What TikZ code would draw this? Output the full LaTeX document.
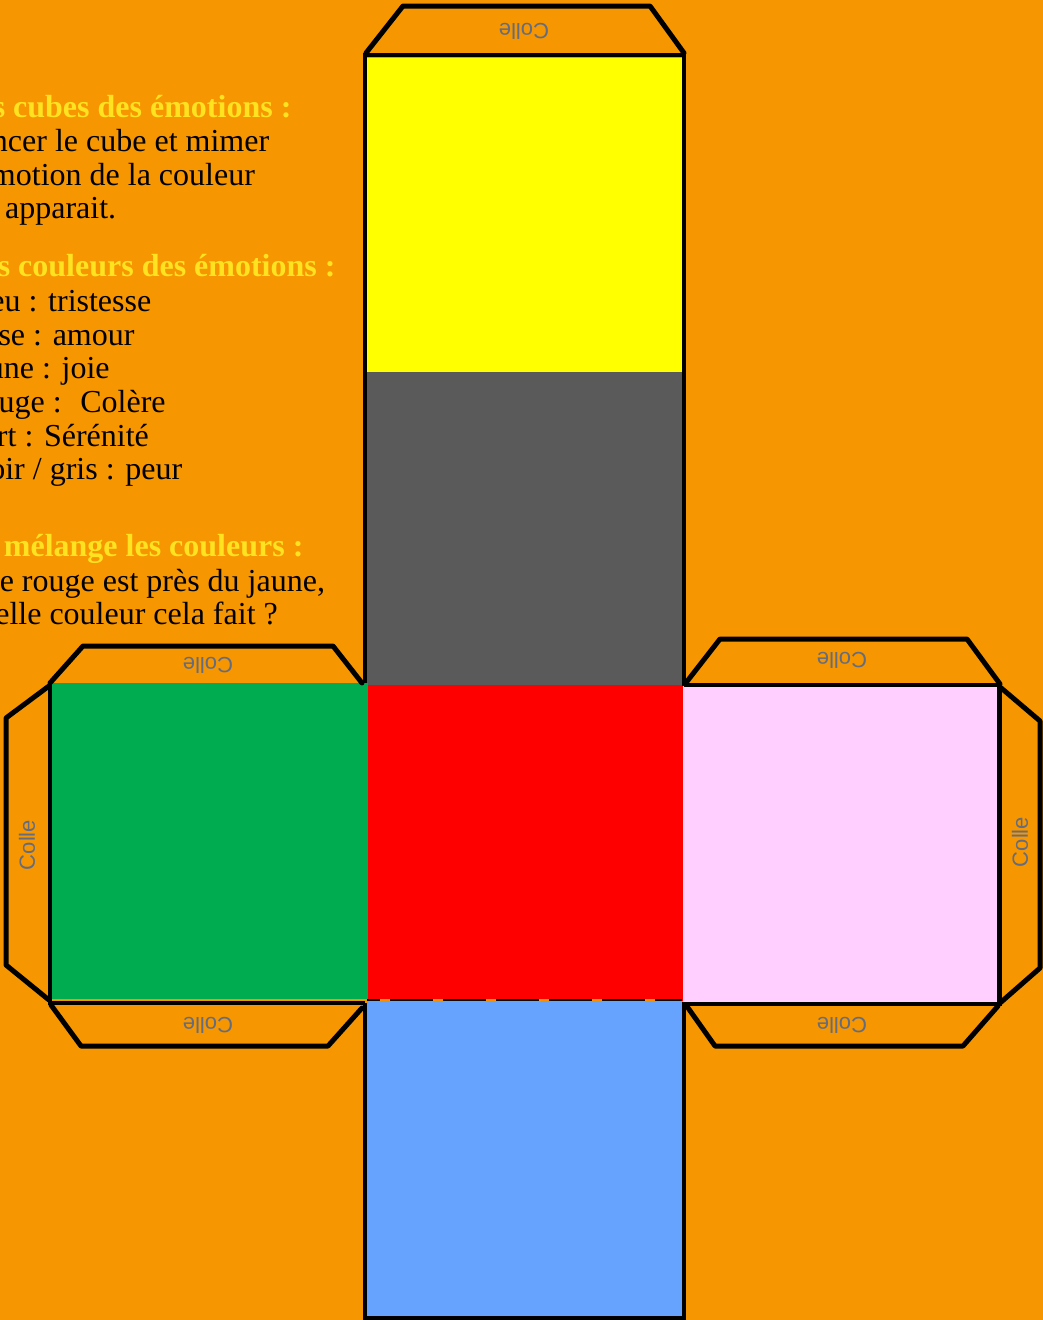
\documentclass[tikz,border=0pt]{standalone}
\usepackage{fontspec}
\setmainfont{Liberation Serif}
\newfontfamily\collefont{Liberation Sans}
\usepackage{xcolor}
\usetikzlibrary{positioning}

\definecolor{fondorange}{RGB}{246,150,0}
\definecolor{titrejaune}{RGB}{255,226,32}
\definecolor{facejaune}{RGB}{255,255,0}
\definecolor{facegris}{RGB}{90,90,90}
\definecolor{facerouge}{RGB}{255,0,0}
\definecolor{facebleu}{RGB}{102,163,255}
\definecolor{facevert}{RGB}{0,172,80}
\definecolor{facerose}{RGB}{255,208,255}
\definecolor{collegris}{RGB}{100,108,126}

\begin{document}
\begin{tikzpicture}[
  x=1pt,
  y=-1pt,
  face/.style={draw=none,inner sep=0pt,minimum width=316pt,minimum height=316pt},
  contour/.style={draw=black,line width=4.5pt,line join=miter},
  languette/.style={draw=black,line width=5pt,line join=round,line cap=round},
  colle/.style={font=\collefont\fontsize{22}{22}\selectfont,text=collegris,inner sep=0pt},
  titre/.style={anchor=base west,inner sep=0pt,font=\bfseries\fontsize{32}{34}\selectfont,text=titrejaune},
  ligne/.style={anchor=base west,inner sep=0pt,font=\fontsize{32}{34}\selectfont,text=black}
]

% Page background.
\useasboundingbox (0,0) rectangle (1043,1320);
\fill[fondorange] (0,0) rectangle (1043,1320);

% Six faces of the cube.
\node[face,fill=facejaune] (jaune) at (524.5,215.5) {};
\node[face,fill=facegris] (gris) at (524.5,529.5) {};
\node[face,fill=facerouge] (rouge) at (524.5,843) {};
\node[face,fill=facebleu] (bleu) at (524.5,1159) {};
\node[face,fill=facevert] (vert) at (209.5,841) {};
\node[face,fill=facerose] (rose) at (840.5,844) {};

% Outline of the central column.
\draw[contour] (365,53) -- (365,683);
\draw[contour] (365,1003) -- (365,1318);
\draw[contour] (684,53) -- (684,686);
\draw[contour] (684,1002) -- (684,1318);
\draw[contour] (363,1318) -- (686,1318);
\draw[contour] (363,55) -- (686,55);

% Fold line between red and blue.
\draw[black,line width=2pt] (367,1000) -- (682,1000);
\draw[fondorange,line width=1.5pt,dash pattern=on 10pt off 43pt,dash phase=-13pt]
  (367,1000) -- (682,1000);

% Outline of the green and pink faces.
\draw[contour] (50,683) -- (50,1003) -- (365,1003);
\draw[contour] (684,685) -- (999.5,685) -- (999.5,1004) -- (684,1004);

% Glue tabs.
\draw[languette] (366,53) -- (403,6) -- (650,6) -- (684,53);
\draw[languette] (50,683) -- (83,646) -- (333,646) -- (362,683);
\draw[languette] (49,686) -- (6,718) -- (6,965) -- (49,1000);
\draw[languette] (51,1005) -- (81,1046) -- (328,1046) -- (362,1008);
\draw[languette] (685,684) -- (720,639) -- (967,639) -- (1000,684);
\draw[languette] (1000,687) -- (1040,721) -- (1040,968) -- (1000,1003);
\draw[languette] (686,1005) -- (715,1046) -- (963,1046) -- (998,1006);

% Tab labels.
\node[colle,rotate=180] (collehaut) at (524,31) {Colle};
\node[colle,rotate=180] (collevert) at (208,665) {Colle};
\node[colle,rotate=180] (collevertbas) at (208,1025) {Colle};
\node[colle,rotate=90] (collegauche) at (27,845) {Colle};
\node[colle,rotate=180] (colleroseh) at (842,660) {Colle};
\node[colle,rotate=180] (collerosebas) at (842,1025) {Colle};
\node[colle,rotate=90] (colledroite) at (1020,842) {Colle};

% Instructions on the left, cut by the page edge.
\node[titre] (titrecubes) at (-43,117) {Les cubes des émotions :};
\node[ligne] (lancer) at (-42,151) {Lancer le cube et mimer};
\node[ligne] (emotion) at (-43,185) {l'émotion de la couleur};
\node[ligne] (apparait) at (-44,218) {qui apparait.};

\node[titre] (titrecouleurs) at (-38,276) {Les couleurs des émotions :};
\node[ligne] (lbleu) at (-40,311) {Bleu : tristesse};
\node[ligne] (lrose) at (-39,345) {Rose : amour};
\node[ligne] (ljaune) at (-39,378) {Jaune : joie};
\node[ligne] (lrouge) at (-39,412) {Rouge : \ Colère};
\node[ligne] (lvert) at (-37,446) {Vert : Sérénité};
\node[ligne] (lnoir) at (-34,479) {Noir / gris : peur};

\node[titre] (titremelange) at (-47,556) {On mélange les couleurs :};
\node[ligne] (rougejaune) at (-44,591) {Si le rouge est près du jaune,};
\node[ligne] (quelle) at (-44,624) {Quelle couleur cela fait ?};

\end{tikzpicture}
\end{document}
